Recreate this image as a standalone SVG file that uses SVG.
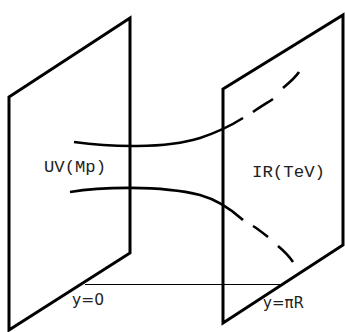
<svg xmlns="http://www.w3.org/2000/svg" width="345" height="332" viewBox="0 0 345 332">
<style>
.plane{fill:none;stroke:#000;stroke-width:3;stroke-linejoin:miter}
.curve{fill:none;stroke:#000;stroke-width:2.6;stroke-linecap:butt}
.axis{fill:none;stroke:#000;stroke-width:1}
.lbl{font-family:"Liberation Mono","DejaVu Sans Mono",monospace;font-size:17px;fill:#222}
.pos{font-family:"DejaVu Sans","Liberation Sans",sans-serif;font-size:15px;fill:#222}
</style>
<rect width="345" height="332" fill="#fff"/>
<g id="connectors">
<line class="axis" x1="85" y1="284.5" x2="283" y2="284.5"/>
<path class="curve" d="M74,142 C110,147 165,149 200,138 C218,132 232,125 243,118"/>
<path class="curve" d="M253,112 C260,107 267,103 273,99"/>
<path class="curve" d="M283,88 C289,83 295,78 299,72"/>
<path class="curve" d="M70,192 C100,187 160,185 200,195 C218,200 232,210 243,220"/>
<path class="curve" d="M253,226 C258,229 263,233 268,237"/>
<path class="curve" d="M278,246 C284,251 289,256 293,262"/>
</g>
<g id="uv-brane">
<polygon class="plane" points="9,97 130,18 130,253 9,330"/>
<text class="lbl" x="44" y="172" textLength="62" lengthAdjust="spacingAndGlyphs">UV(Mp)</text>
<text class="pos" x="72" y="305" textLength="32" lengthAdjust="spacingAndGlyphs">y=0</text>
</g>
<g id="ir-brane">
<polygon class="plane" points="223,89 343,15 343,245 223,323"/>
<text class="lbl" x="252" y="177" textLength="73" lengthAdjust="spacingAndGlyphs">IR(TeV)</text>
<text class="pos" x="263" y="308" textLength="41" lengthAdjust="spacingAndGlyphs">y=πR</text>
</g>
</svg>
